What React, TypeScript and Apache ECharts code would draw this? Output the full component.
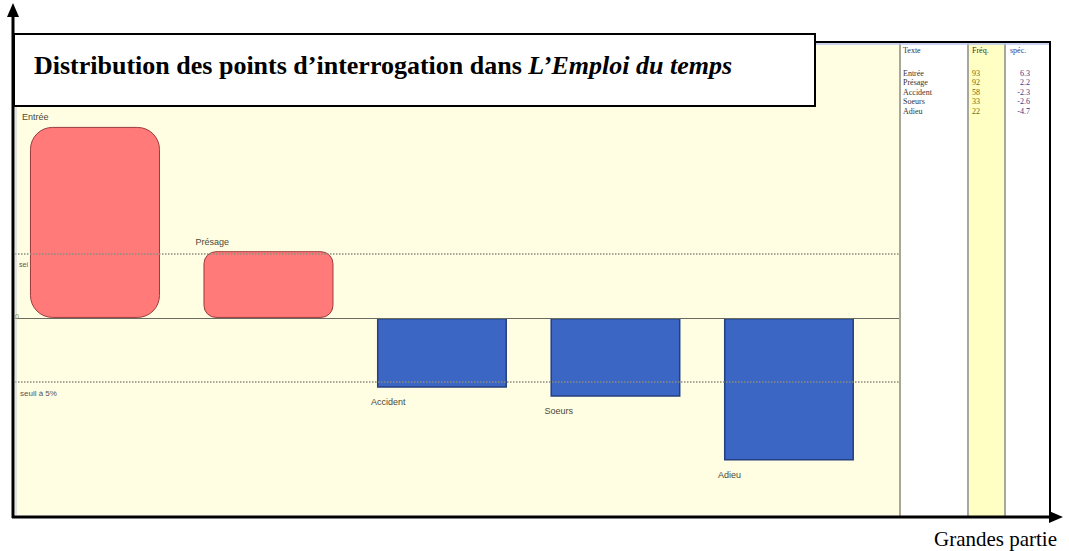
import React, { useEffect, useRef } from "react";
import * as echarts from "echarts";

const categories = ["Entrée", "Présage", "Accident", "Soeurs", "Adieu"];
const specValues = [6.3, 2.2, -2.3, -2.6, -4.7];
const freqValues = [93, 92, 58, 33, 22];
const specLabels = ["6.3", "2.2", "-2.3", "-2.6", "-4.7"];
const thresholds = [2.1, -2.1];
const tableHeaders = ["Texte", "Fréq.", "spéc."];
const titleMain = "Distribution des points d’interrogation dans ";
const titleItalic = "L’Emploi du temps";
const xAxisName = "Grandes partie";

export default function App() {
  const ref = useRef<HTMLDivElement>(null);
  useEffect(() => {
    if (!ref.current) return;
    const chart = echarts.init(ref.current, null, { renderer: "svg" });

    const data = categories.map((name, i) => {
      const v = specValues[i];
      const pos = v >= 0;
      const radius = pos ? (v > 4 ? 22 : 12) : 0;
      return {
        value: [i, v],
        name,
        itemStyle: pos
          ? { color: "#ff7a78", borderColor: "#9a3c3c", borderWidth: 1, borderRadius: radius }
          : { color: "#3b66c4", borderColor: "#243f80", borderWidth: 1.5 },
        label: {
          show: true,
          formatter: name,
          position: pos ? "top" : "bottom",
          align: "left",
          distance: 5,
          offset: pos ? [-73, 0] : [-71, 5],
          fontSize: 9,
          color: "#4a4a3a",
          fontFamily: "Liberation Sans, Arial, sans-serif",
        },
      };
    });

    const tableTexts: any[] = [];
    const colX = [903, 972, 1010];
    tableHeaders.forEach((h, j) => {
      tableTexts.push({
        type: "text",
        x: colX[j],
        y: 46,
        z: 60,
        style: { text: h, fontSize: 8, fill: j === 2 ? "#3a3a8a" : "#333", fontFamily: "Liberation Serif, serif" },
      });
    });
    categories.forEach((c, i) => {
      const y = 69 + i * 9.5;
      tableTexts.push({
        type: "text", x: 903, y, z: 60,
        style: { text: c, fontSize: 8, fill: "#333", fontFamily: "Liberation Serif, serif" },
      });
      tableTexts.push({
        type: "text", x: 972, y, z: 60,
        style: { text: String(freqValues[i]), fontSize: 8, fill: "#6b6b1a", fontFamily: "Liberation Serif, serif" },
      });
      tableTexts.push({
        type: "text", x: 1030, y, z: 60,
        style: { text: specLabels[i], fontSize: 8, fill: "#3a3a8a", align: "right", fontFamily: "Liberation Serif, serif" },
      });
    });

    chart.setOption({
      animation: false,
      grid: {
        left: 15,
        width: 885,
        top: 42,
        height: 473,
        show: true,
        backgroundColor: "#fffde2",
        borderWidth: 0,
      },
      xAxis: {
        type: "value",
        min: -0.461,
        max: 4.64,
        show: false,
        splitLine: { show: false },
      },
      yAxis: {
        type: "value",
        min: -6.5,
        max: 9.1,
        show: false,
        splitLine: { show: false },
      },
      series: [
        {
          type: "bar",
          barWidth: 130,
          data,
          markLine: {
            silent: true,
            symbol: "none",
            label: { show: false },
            data: [
              ...thresholds.map((t) => ({ yAxis: t, lineStyle: { type: "dotted", color: "#8a8a80", width: 1.5 } })),
              { yAxis: 0, lineStyle: { type: "solid", color: "#6a6a60", width: 1.2 } },
            ],
          },
        },
      ],
      graphic: [
        // table panel
        { type: "rect", shape: { x: 900, y: 42, width: 150, height: 475 }, style: { fill: "#ffffff" }, z: 50 },
        { type: "rect", shape: { x: 968, y: 42, width: 37, height: 475 }, style: { fill: "#ffffc4" }, z: 51 },
        { type: "line", shape: { x1: 900, y1: 42, x2: 900, y2: 517 }, style: { stroke: "#a8a89a", lineWidth: 2 }, z: 52 },
        { type: "line", shape: { x1: 968, y1: 42, x2: 968, y2: 517 }, style: { stroke: "#a8a89a", lineWidth: 2 }, z: 52 },
        { type: "line", shape: { x1: 1005, y1: 42, x2: 1005, y2: 517 }, style: { stroke: "#a8a89a", lineWidth: 2 }, z: 52 },
        { type: "line", shape: { x1: 815, y1: 44, x2: 1050, y2: 44 }, style: { stroke: "#b8c4ee", lineWidth: 1.5 }, z: 53 },
        { type: "line", shape: { x1: 815, y1: 42, x2: 1051, y2: 42 }, style: { stroke: "#000", lineWidth: 2 }, z: 54 },
        { type: "line", shape: { x1: 1050, y1: 41, x2: 1050, y2: 517 }, style: { stroke: "#000", lineWidth: 2 }, z: 54 },
        ...tableTexts,
        // left side small labels
        { type: "line", shape: { x1: 16, y1: 105, x2: 16, y2: 515 }, style: { stroke: "#c8cce0", lineWidth: 1 }, z: 40 },
        { type: "text", x: 19, y: 261, z: 60, style: { text: "sei", fontSize: 7, fill: "#555", fontFamily: "Liberation Sans, sans-serif" } },
        { type: "text", x: 15, y: 313, z: 60, style: { text: "0", fontSize: 7, fill: "#8a8a20", fontFamily: "Liberation Sans, sans-serif" } },
        { type: "text", x: 20, y: 389, z: 60, style: { text: "seuil à 5%", fontSize: 8, fill: "#555", fontFamily: "Liberation Sans, sans-serif" } },
        // title box
        { type: "rect", shape: { x: 14, y: 34, width: 801, height: 72 }, style: { fill: "#ffffff", stroke: "#000", lineWidth: 2 }, z: 70 },
        {
          type: "text",
          x: 34,
          y: 65,
          z: 71,
          style: {
            text: "{a|" + titleMain + "}{b|" + titleItalic + "}",
            verticalAlign: "middle",
            rich: {
              a: { fontSize: 26, fontWeight: "bold", fontFamily: "Liberation Serif, Times New Roman, serif", fill: "#000" },
              b: { fontSize: 26, fontWeight: "bold", fontStyle: "italic", fontFamily: "Liberation Serif, Times New Roman, serif", fill: "#000" },
            },
          },
        },
        // axes with arrows
        { type: "line", shape: { x1: 13, y1: 12, x2: 13, y2: 518 }, style: { stroke: "#000", lineWidth: 3 }, z: 80 },
        { type: "polygon", shape: { points: [[13, 3], [7, 17], [19, 17]] }, style: { fill: "#000" }, z: 80 },
        { type: "line", shape: { x1: 12, y1: 517, x2: 1052, y2: 517 }, style: { stroke: "#000", lineWidth: 3 }, z: 80 },
        { type: "polygon", shape: { points: [[1063, 517], [1049, 511], [1049, 523]] }, style: { fill: "#000" }, z: 80 },
        {
          type: "text",
          x: 934,
          y: 539,
          z: 80,
          style: { text: xAxisName, fontSize: 21, fill: "#000", verticalAlign: "middle", fontFamily: "Liberation Serif, Times New Roman, serif" },
        },
      ],
    });
    return () => chart.dispose();
  }, []);
  return (
    <div
      ref={ref}
      style={{ position: "absolute", left: 0, top: 0, width: 1069, height: 551, background: "#ffffff" }}
    />
  );
}
